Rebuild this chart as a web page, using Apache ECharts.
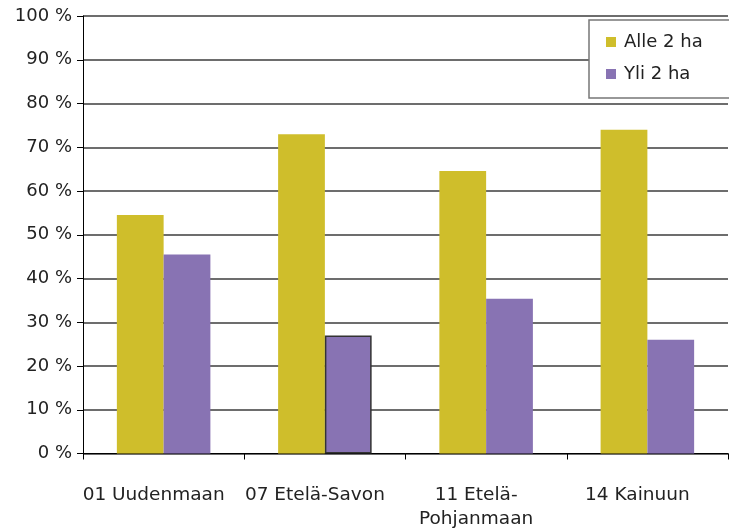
<!DOCTYPE html>
<html>
<head>
<meta charset="utf-8">
<script src="https://cdn.jsdelivr.net/npm/echarts@6/dist/echarts.min.js"></script>
<style>html,body{margin:0;padding:0;background:#fff}#c{width:729px;height:528px}</style>
</head>
<body>
<div id="c"></div>
<script>
var categories = ['01 Uudenmaan', '07 Etelä-Savon', '11 Etelä-\nPohjanmaan', '14 Kainuun'];
var seriesNames = ['Alle 2 ha', 'Yli 2 ha'];
var alle = [54.5, 73.0, 64.6, 74.0];
var yli = [45.5, 27.0, 35.4, 26.0];
var yTicks = [0, 10, 20, 30, 40, 50, 60, 70, 80, 90, 100];

var chart = echarts.init(document.getElementById('c'), null, {renderer: 'canvas'});
var font = 'DejaVu Sans, Verdana, sans-serif';
chart.setOption({
  animation: false,
  backgroundColor: '#ffffff',
  grid: {left: 83, right: 1, top: 16, bottom: 74.5, containLabel: false, outerBoundsMode: 'none'},
  legend: {
    orient: 'vertical',
    left: 589, top: 20,
    backgroundColor: '#ffffff',
    borderColor: '#777',
    borderWidth: 1.5,
    padding: [13, 40, 15, 17],
    itemWidth: 10, itemHeight: 10, itemGap: 14,
    icon: 'rect',
    textStyle: {fontFamily: font, fontSize: 18, color: '#222', padding: [0, 0, 0, 3]},
    data: seriesNames
  },
  xAxis: {
    type: 'category',
    data: categories,
    axisLine: {lineStyle: {color: '#000', width: 1}},
    axisTick: {show: true, length: 6, lineStyle: {color: '#000'}},
    axisLabel: {fontFamily: font, fontSize: 18.5, color: '#222', margin: 30, lineHeight: 24, interval: 0, padding: [0, 20, 0, 0]}
  },
  yAxis: {
    type: 'value',
    min: yTicks[0], max: yTicks[yTicks.length - 1], interval: 10,
    axisLine: {show: true, lineStyle: {color: '#000', width: 1}},
    axisTick: {show: true, length: 6, lineStyle: {color: '#000'}},
    axisLabel: {fontFamily: font, fontSize: 18, color: '#222', margin: 11, formatter: function(v){return v + ' %';}},
    splitLine: {show: true, lineStyle: {color: '#3c3c3c', width: 1.5}}
  },
  series: [
    {name: seriesNames[0], type: 'bar', data: alle, barGap: '0%', barCategoryGap: '42%', itemStyle: {color: '#CFBE2B'}},
    {name: seriesNames[1], type: 'bar', data: yli.map(function(v, i){
        return i === 1 ? {value: v, itemStyle: {borderColor: '#333', borderWidth: 1.5}} : v;
      }), itemStyle: {color: '#8873B3'}}
  ]
});
</script>
</body>
</html>
